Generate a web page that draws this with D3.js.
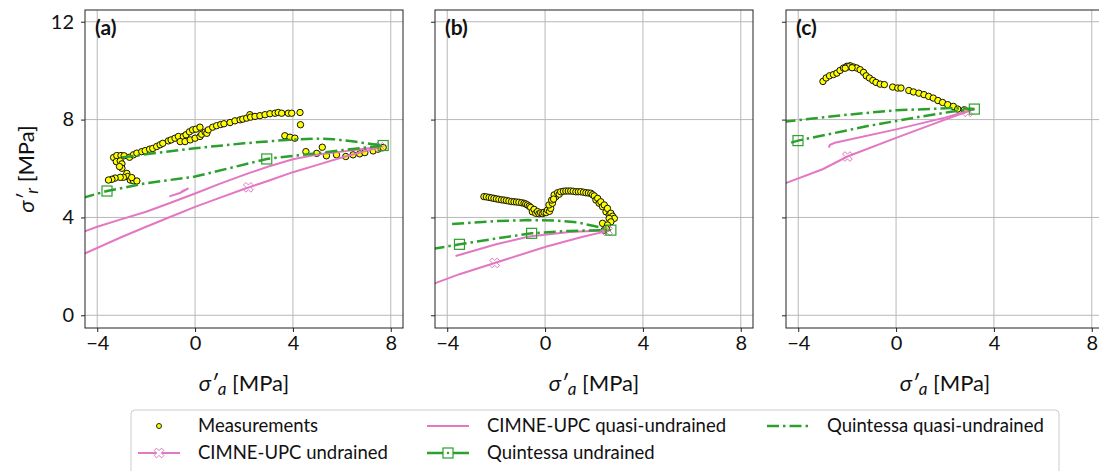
<html>
<script src='https://d3js.org/d3.v7.min.js'></script>
<style>
body { margin: 0; background: white; }
text { font-family: Lato, sans-serif; fill: #111; }
.grid line { stroke: #b8b8b8; stroke-width: 1; }
</style>
<body>
<svg width=1099 height=471></svg>
<script>
// ---- data (MPa) ----
const xTicks = [-4, 0, 4, 8]
const yTicks = [0, 4, 8, 12]
const panelLabels = ['(a)', '(b)', '(c)']
const legendLabels = ['Measurements', 'CIMNE-UPC undrained', 'CIMNE-UPC quasi-undrained', 'Quintessa undrained', 'Quintessa quasi-undrained']

const measA = [[-3.33,6.45],[-3.20,6.53],[-3.03,6.53],[-2.90,6.52],[-2.68,6.46],[-2.52,6.56],[-2.38,6.63],[-2.18,6.69],[-2.04,6.73],
  [-1.86,6.79],[-1.73,6.82],[-1.57,6.90],[-1.43,6.97],[-1.32,7.03],[-1.09,7.13],[-0.98,7.17],[-0.82,7.24],[-0.68,7.31],[-0.48,7.31],
  [-0.37,7.38],[-0.23,7.50],[-0.10,7.58],[0.04,7.61],[0.20,7.69],[-0.61,7.10],[-0.41,7.10],[-0.20,7.17],[0.00,7.24],[0.20,7.31],
  [0.27,7.40],[0.41,7.49],[0.48,7.44],[0.54,7.58],[0.72,7.69],[0.88,7.75],[1.05,7.80],[1.18,7.83],[1.43,7.88],[1.63,7.95],[1.84,7.99],
  [1.95,8.02],[2.11,8.06],[2.24,8.20],[2.27,8.10],[2.45,8.13],[2.65,8.16],[2.86,8.20],[3.06,8.24],[3.27,8.26],[3.40,8.29],[3.54,8.26],
  [3.81,8.26],[3.95,8.26],[4.29,8.29],[4.31,7.79],[3.67,7.34],[3.88,7.28],[4.08,7.24],[4.53,6.69],[4.97,6.62],[5.20,6.87],[5.37,6.52],
  [5.78,6.56],[6.16,6.49],[6.46,6.56],[6.73,6.60],[6.94,6.65],[7.28,6.72],[7.48,6.79],[7.69,6.86],
  [-3.22,6.28],[-3.06,6.31],[-2.99,6.19],[-2.99,6.01],[-3.09,6.08],[-2.79,5.80],[-2.76,5.67],[-2.93,5.64],[-3.06,5.64],[-3.27,5.61],
  [-3.40,5.56],[-3.54,5.53],[-2.65,5.53],[-2.52,5.50],[-2.38,5.49],[-2.59,5.63]]
const measB = [[-2.50,4.85],[-2.40,4.84],[-2.29,4.82],[-2.19,4.80],[-2.09,4.78],[-1.99,4.76],[-1.89,4.74],[-1.78,4.72],[-1.68,4.71],
  [-1.58,4.69],[-1.48,4.67],[-1.37,4.65],[-1.27,4.64],[-1.17,4.63],[-1.07,4.62],[-0.96,4.60],[-0.86,4.58],[-0.79,4.55],[-0.72,4.51],
  [-0.65,4.46],[-0.59,4.41],[-0.52,4.23],[-0.45,4.33],[-0.38,4.17],[-0.31,4.24],[-0.25,4.15],[-0.18,4.19],[-0.10,4.16],[-0.04,4.21],
  [0.05,4.20],[0.10,4.30],[0.18,4.25],[0.23,4.37],[0.16,4.51],[0.30,4.58],[0.27,4.71],[0.44,4.85],[0.37,4.92],[0.35,4.75],[0.51,5.01],
  [0.58,4.95],[0.64,5.05],[0.75,5.07],[0.85,5.08],[0.95,5.08],[1.05,5.08],[1.15,5.07],[1.26,5.05],[1.36,5.05],[1.46,5.05],[1.57,5.03],
  [1.67,5.01],[1.77,5.00],[1.87,4.99],[1.94,4.93],[2.01,4.88],[2.08,4.71],[2.15,4.78],[2.21,4.58],[2.28,4.64],[2.35,4.44],[2.42,4.51],
  [2.49,4.23],[2.55,4.37],[2.62,4.10],[2.69,4.17],[2.76,4.05],[2.83,3.96],[2.62,3.96],[2.69,3.82],[2.35,3.76],[2.55,3.69],[2.42,3.48],[2.50,3.55]]
const measC = [[-2.99,9.56],[-2.86,9.70],[-2.72,9.79],[-2.56,9.84],[-2.42,9.90],[-2.29,10.01],[-2.15,10.11],[-2.01,10.18],[-1.88,10.20],
  [-1.74,10.15],[-1.61,10.11],[-1.47,10.04],[-1.33,9.93],[-1.22,9.79],[-1.09,9.70],[-0.95,9.60],[-0.82,9.52],[-0.65,9.45],[-0.48,9.43],
  [-0.14,9.33],[0.07,9.29],[0.20,9.29],[0.52,9.19],[0.71,9.13],[0.93,9.08],[1.14,9.02],[1.33,8.95],[1.52,8.88],[1.71,8.78],[1.90,8.70],
  [2.11,8.61],[2.34,8.54],[2.52,8.43],[2.79,8.40],[-1.95,10.16],[-2.08,10.10],[-1.80,10.12]]

const cimneUndA = [[-4.6,2.49],[-3,3.2],[-2,3.62],[-1,4.03],[0,4.43],[1,4.8],[2,5.16],[3,5.5],[4,5.85],[5,6.15],[6,6.45],[7,6.72],[7.6,6.88]]
const cimneUndB = [[-4.6,1.27],[-3.5,1.68],[-2.06,2.14],[0.03,2.8],[1.5,3.2],[2.62,3.46]]
const cimneUndC = [[-4.6,5.37],[-3,5.97],[-1.99,6.49],[0,7.25],[2,8.0],[3.2,8.43]]
const cimneUndMarksA = [[2.18,5.23],[7.55,6.87]]
const cimneUndMarksB = [[-2.06,2.14],[2.55,3.45]]
const cimneUndMarksC = [[-1.99,6.49],[2.93,8.32]]

const cimneQuasiA = [[-4.6,3.4],[-4,3.62],[-3,3.93],[-2,4.23],[-1,4.6],[0,4.98],[1,5.37],[2,5.74],[3,6.08],[4,6.38],[5,6.57],[6,6.69],[7,6.82],[7.6,6.9]]
const cimneHookA = [[-1.05,4.86],[-0.62,5.0],[-0.27,5.19],[-0.55,5.06]]
const cimneQuasiB = [[-3.66,2.42],[-2,2.9],[-0.66,3.22],[1,3.4],[2.62,3.48]]
const cimneQuasiC = [[-2.75,6.86],[-2.7,6.97],[-2.5,7.05],[0,7.6],[2,8.08],[3.2,8.43]]

const quinUndA = [[-4.6,4.8],[-3.6,5.08],[-2,5.4],[0,5.67],[2.93,6.39],[5,6.63],[7.69,6.94]]
const quinUndB = [[-4.6,2.71],[-3.5,2.9],[-2,3.14],[-0.55,3.35],[1,3.45],[2.69,3.48]]
const quinUndC = [[-4.29,7.06],[-4.01,7.14],[-1.09,7.75],[1,8.12],[2.31,8.33],[3.2,8.43]]
const quinUndMarksA = [[-3.6,5.08],[2.93,6.39],[7.69,6.94]]
const quinUndMarksB = [[-3.5,2.9],[-0.55,3.35],[2.69,3.48]]
const quinUndMarksC = [[-4.01,7.14],[3.2,8.43]]

const quinQuasiA = [[-3.0,6.45],[-1.7,6.62],[0,6.83],[2,7.03],[3.74,7.17],[5.0,7.22],[5.65,7.2],[6.5,7.1],[7.2,7.0],[7.69,6.94]]
const quinQuasiB = [[-3.8,3.73],[-2,3.85],[-0.7,3.89],[0.5,3.87],[1.3,3.8],[2.0,3.65],[2.69,3.48]]
const quinQuasiC = [[-4.6,7.91],[-2,8.2],[0,8.38],[2.3,8.47],[3.2,8.43]]

const pink = '#e377c2', green = '#2ca02c'

const panels = [
  {left: 85,  meas: measA, cu: cimneUndA, cuM: cimneUndMarksA, cq: [cimneQuasiA, cimneHookA], qu: quinUndA, quM: quinUndMarksA, qq: quinQuasiA},
  {left: 435, meas: measB, cu: cimneUndB, cuM: cimneUndMarksB, cq: [cimneQuasiB], qu: quinUndB, quM: quinUndMarksB, qq: quinQuasiB},
  {left: 786, meas: measC, cu: cimneUndC, cuM: cimneUndMarksC, cq: [cimneQuasiC], qu: quinUndC, quM: quinUndMarksC, qq: quinQuasiC}
]

const W = 318, plotTop = 10, H = 318
const svg = d3.select('svg')
const x = d3.scaleLinear().domain([-4.5, 8.5]).range([0, W])
const y = d3.scaleLinear().domain([-0.52, 12.48]).range([H, 0])
const line = d3.line().x(d => x(d[0])).y(d => y(d[1]))

// hollow "X" marker like matplotlib
const t = 0.32
const plus = [[-t,-1],[t,-1],[t,-t],[1,-t],[1,t],[t,t],[t,1],[-t,1],[-t,t],[-1,t],[-1,-t],[-t,-t]]
const xMarker = 'M' + plus.map(p => {
  const a = Math.PI / 4, r = 5.2
  return [(p[0]*Math.cos(a) - p[1]*Math.sin(a)) * r, (p[0]*Math.sin(a) + p[1]*Math.cos(a)) * r].map(v => v.toFixed(2)).join(',')
}).join('L') + 'Z'

function drawX(g, pts) {
  g.selectAll(null).data(pts).enter().append('path')
    .attr('d', xMarker).attr('transform', d => `translate(${x(d[0])},${y(d[1])})`)
    .attr('fill', 'none').attr('stroke', pink).attr('stroke-width', 1)
}
function drawSq(g, pts) {
  g.selectAll(null).data(pts).enter().append('rect')
    .attr('x', d => x(d[0]) - 5).attr('y', d => y(d[1]) - 5).attr('width', 10).attr('height', 10)
    .attr('fill', 'none').attr('stroke', green).attr('stroke-width', 1.2)
}

panels.forEach((p, i) => {
  const g = svg.append('g').attr('transform', `translate(${p.left},${plotTop})`)
  svg.append('clipPath').attr('id', 'clip' + i).append('rect').attr('width', W).attr('height', H)

  // grid
  const grid = g.append('g').attr('class', 'grid')
  grid.selectAll(null).data(xTicks).enter().append('line')
    .attr('x1', d => x(d)).attr('x2', d => x(d)).attr('y1', 0).attr('y2', H)
  grid.selectAll(null).data(yTicks).enter().append('line')
    .attr('y1', d => y(d)).attr('y2', d => y(d)).attr('x1', 0).attr('x2', W)

  // axes
  const ax = g.append('g').attr('transform', `translate(0,${H})`)
    .call(d3.axisBottom(x).tickValues(xTicks).tickSize(4).tickSizeOuter(0).tickPadding(4))
  const ay = g.append('g')
    .call(d3.axisLeft(y).tickValues(yTicks).tickSize(4).tickSizeOuter(0).tickPadding(7)
      .tickFormat(i == 0 ? d3.format('d') : ''))
  ;[ax, ay].forEach(a => {
    a.select('.domain').remove()
    a.selectAll('text').style('font-family', 'Lato, sans-serif').style('font-size', '20px').attr('fill', '#111')
    a.selectAll('line').attr('stroke', '#222')
  })

  const pl = g.append('g').attr('clip-path', `url(#clip${i})`)
  // measurements
  pl.selectAll(null).data(p.meas).enter().append('circle')
    .attr('cx', d => x(d[0])).attr('cy', d => y(d[1])).attr('r', 3.2)
    .attr('fill', '#ffff00').attr('stroke', '#111').attr('stroke-width', 1)
  // CIMNE
  pl.append('path').attr('d', line(p.cu)).attr('fill', 'none').attr('stroke', pink).attr('stroke-width', 2)
  p.cq.forEach(s => pl.append('path').attr('d', line(s)).attr('fill', 'none').attr('stroke', pink).attr('stroke-width', 2))
  drawX(pl, p.cuM)
  // Quintessa
  pl.append('path').attr('d', line(p.qu)).attr('fill', 'none').attr('stroke', green).attr('stroke-width', 2.5)
    .attr('stroke-dasharray', '12,4,2.5,4')
  pl.append('path').attr('d', line(p.qq)).attr('fill', 'none').attr('stroke', green).attr('stroke-width', 2.5)
    .attr('stroke-dasharray', '12,4,2.5,4')
  drawSq(pl, p.quM)

  // frame
  g.append('rect').attr('width', W).attr('height', H).attr('fill', 'none').attr('stroke', '#222').attr('stroke-width', 1)

  g.append('text').attr('x', 10).attr('y', 25).style('font-size', '21px').style('font-weight', 'bold').text(panelLabels[i])

  // x label
  const xl = g.append('text').attr('x', W / 2).attr('y', H + 63).attr('text-anchor', 'middle').style('font-size', '22px')
  xl.append('tspan').style('font-style', 'italic').text('σ′')
  xl.append('tspan').style('font-style', 'italic').style('font-size', '17px').attr('dy', 4).text('a')
  xl.append('tspan').attr('dy', -4).text(' [MPa]')
})

// y label
const yl = svg.append('text').attr('transform', `translate(34,${plotTop + H / 2}) rotate(-90)`)
  .attr('text-anchor', 'middle').style('font-size', '22px')
yl.append('tspan').style('font-style', 'italic').text('σ′')
yl.append('tspan').style('font-style', 'italic').style('font-size', '17px').attr('dy', 4).text('r')
yl.append('tspan').attr('dy', -4).text(' [MPa]')

// legend
const lg = svg.append('g')
lg.append('rect').attr('x', 131).attr('y', 410).attr('width', 928).attr('height', 68).attr('rx', 4)
  .attr('fill', 'white').attr('stroke', '#cccccc').attr('stroke-width', 1)
const cols = [138, 427, 767], rows = [426, 453]
const items = [[0, 0], [0, 1], [1, 0], [1, 1], [2, 0]]
items.forEach((c, k) => {
  const x0 = cols[c[0]], yy = rows[c[1]], cx = x0 + 21
  const e = lg.append('g')
  if (k == 0) {
    e.append('circle').attr('cx', cx).attr('cy', yy).attr('r', 2.5).attr('fill', '#ffff00').attr('stroke', '#222')
  } else {
    const col = k < 3 ? pink : green
    e.append('line').attr('x1', x0).attr('x2', x0 + 42).attr('y1', yy).attr('y2', yy)
      .attr('stroke', col).attr('stroke-width', k < 3 ? 2 : 2.5)
      .attr('stroke-dasharray', k == 4 ? '12,4,2.5,4' : null)
    if (k == 1) e.append('path').attr('d', xMarker).attr('transform', `translate(${cx},${yy})`)
      .attr('fill', 'white').attr('stroke', pink).attr('stroke-width', 1)
    if (k == 3) {
      e.append('rect').attr('x', cx - 5).attr('y', yy - 5).attr('width', 10).attr('height', 10)
        .attr('fill', 'white').attr('stroke', green).attr('stroke-width', 1.2)
      e.append('circle').attr('cx', cx).attr('cy', yy).attr('r', 1.2).attr('fill', green)
    }
  }
  e.append('text').attr('x', x0 + 60).attr('y', yy + 6).style('font-size', '18.5px').text(legendLabels[k])
})
</script>
</body>
</html>
